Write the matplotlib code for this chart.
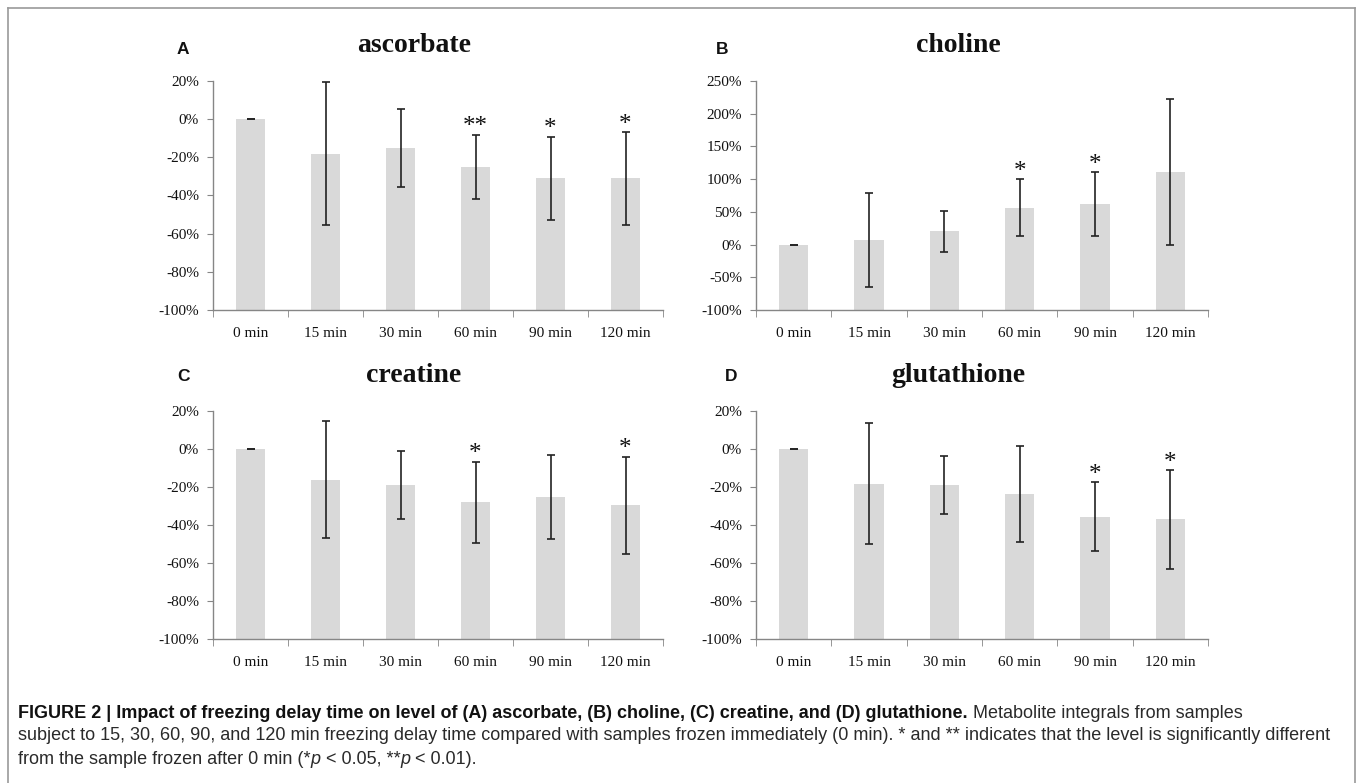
import matplotlib
matplotlib.use("Agg")
import matplotlib.pyplot as plt
from matplotlib.ticker import FuncFormatter, FixedLocator

# freezing delay categories
minutes = ["0 min", "15 min", "30 min", "60 min", "90 min", "120 min"]

# mean change vs 0 min (%) and error bar half-widths (%)
ascorbate_mean = [0, -18, -15, -25, -31, -31]
ascorbate_err = [0, 37.5, 20.5, 16.8, 21.8, 24.3]
ascorbate_sig = ["", "", "", "**", "*", "*"]

choline_mean = [0, 6.6, 20, 56, 62, 111]
choline_err = [0, 71.8, 31, 43.6, 49, 111]
choline_sig = ["", "", "", "*", "*", ""]

creatine_mean = [0, -16.1, -18.9, -28.1, -25.4, -29.5]
creatine_err = [0, 30.7, 17.9, 21.4, 22, 25.5]
creatine_sig = ["", "", "", "*", "", "*"]

glutathione_mean = [0, -18.2, -19.1, -23.9, -35.6, -37]
glutathione_err = [0, 32, 15.3, 25.3, 18, 26]
glutathione_sig = ["", "", "", "", "*", "*"]

small_ticks = [-100, -80, -60, -40, -20, 0, 20]
big_ticks = [-100, -50, 0, 50, 100, 150, 200, 250]

SERIF = "Liberation Serif"
SANS = "Liberation Sans"
AXIS_GREY = "#868686"

W, H = 1358, 783
fig = plt.figure(figsize=(W / 100, H / 100), dpi=100)


def px(x, y):
    # pixel position (from top-left) -> figure fraction
    return x / W, 1 - y / H


def draw_panel(rect, letter, title, letter_xy, title_xy, means, errs, sig, yticks):
    ax = fig.add_axes(rect)
    xs = range(len(minutes))
    base = yticks[0]
    # bars grow from the bottom of the axis, like the Excel original
    ax.bar(xs, [m - base for m in means], bottom=base, width=0.39,
           color="#d9d9d9", zorder=1)
    ax.errorbar(xs, means, yerr=errs, fmt="none", ecolor="#222222",
                elinewidth=1.2, capsize=3, capthick=1.2, zorder=2)
    for i, s in enumerate(sig):
        if s:
            ax.annotate(s, (i, means[i] + errs[i]), xytext=(0, 1),
                        textcoords="offset points", ha="center", va="baseline",
                        fontsize=18, family=SERIF, color="#111111")

    ax.set_xlim(-0.5, len(minutes) - 0.5)
    ax.set_ylim(yticks[0], yticks[-1])
    ax.yaxis.set_major_locator(FixedLocator(yticks))
    ax.yaxis.set_major_formatter(FuncFormatter(lambda v, p: f"{v:.0f}%"))
    ax.set_xticks(list(xs))
    ax.set_xticklabels(minutes)
    ax.set_xticks([i - 0.5 for i in range(len(minutes) + 1)], minor=True)
    ax.tick_params(axis="x", which="major", length=0, pad=12)
    ax.tick_params(axis="x", which="minor", length=5, color=AXIS_GREY, direction="out")
    ax.tick_params(axis="y", length=4, color=AXIS_GREY, direction="out", pad=6)
    for lab in ax.get_xticklabels() + ax.get_yticklabels():
        lab.set_family(SERIF)
        lab.set_fontsize(11)
        lab.set_color("#111111")
    for side in ["top", "right"]:
        ax.spines[side].set_visible(False)
    for side in ["left", "bottom"]:
        ax.spines[side].set_color(AXIS_GREY)
        ax.spines[side].set_linewidth(1.0)

    fig.text(*px(*title_xy), title, ha="center", va="center", family=SERIF,
             fontweight="bold", fontsize=20, color="#111111")
    fig.text(*px(*letter_xy), letter, ha="center", va="center", family=SANS,
             fontweight="bold", fontsize=12.5, color="#111111")
    return ax


def axes_rect(left, top, right, bottom):
    return [left / W, 1 - bottom / H, (right - left) / W, (bottom - top) / H]


draw_panel(axes_rect(213, 81, 663, 310), "A", "ascorbate", (183, 50), (414, 45),
           ascorbate_mean, ascorbate_err, ascorbate_sig, small_ticks)
draw_panel(axes_rect(756, 81, 1208, 310), "B", "choline", (722, 49), (958, 45),
           choline_mean, choline_err, choline_sig, big_ticks)
draw_panel(axes_rect(213, 411, 663, 639), "C", "creatine", (184, 377), (414, 375),
           creatine_mean, creatine_err, creatine_sig, small_ticks)
draw_panel(axes_rect(756, 411, 1208, 639), "D", "glutathione", (731, 377), (958, 375),
           glutathione_mean, glutathione_err, glutathione_sig, small_ticks)

# frame around the figure
frame_col = "#9a9a9a"
fig.add_artist(plt.Line2D([8 / W, 8 / W], [0, 1 - 8 / H], transform=fig.transFigure,
                          color=frame_col, lw=1.2))
fig.add_artist(plt.Line2D([1355 / W, 1355 / W], [0, 1 - 8 / H], transform=fig.transFigure,
                          color=frame_col, lw=1.2))
fig.add_artist(plt.Line2D([8 / W, 1355 / W], [1 - 8 / H, 1 - 8 / H], transform=fig.transFigure,
                          color=frame_col, lw=1.2))

# caption, drawn run by run so bold / italic pieces line up
renderer = fig.canvas.get_renderer()
CAP_SIZE = 13


def caption_line(y, runs):
    x = 18
    for text, style in runs:
        t = fig.text(x / W, 1 - y / H, text, ha="left", va="center", family=SANS,
                     fontsize=CAP_SIZE, color="#111111" if style == "bold" else "#2a2a2a",
                     fontweight="bold" if style == "bold" else "normal",
                     fontstyle="italic" if style == "italic" else "normal")
        x += t.get_window_extent(renderer).width


caption_line(713, [
    ("FIGURE 2 | Impact of freezing delay time on level of (A) ascorbate, (B) choline, "
     "(C) creatine, and (D) glutathione.", "bold"),
    (" Metabolite integrals from samples", "normal"),
])
caption_line(736, [
    ("subject to 15, 30, 60, 90, and 120 min freezing delay time compared with samples "
     "frozen immediately (0 min). * and ** indicates that the level is significantly different",
     "normal"),
])
caption_line(759, [
    ("from the sample frozen after 0 min (*", "normal"),
    ("p", "italic"),
    (" < 0.05, **", "normal"),
    ("p", "italic"),
    (" < 0.01).", "normal"),
])

fig.savefig("out.png", dpi=100)
plt.close(fig)
